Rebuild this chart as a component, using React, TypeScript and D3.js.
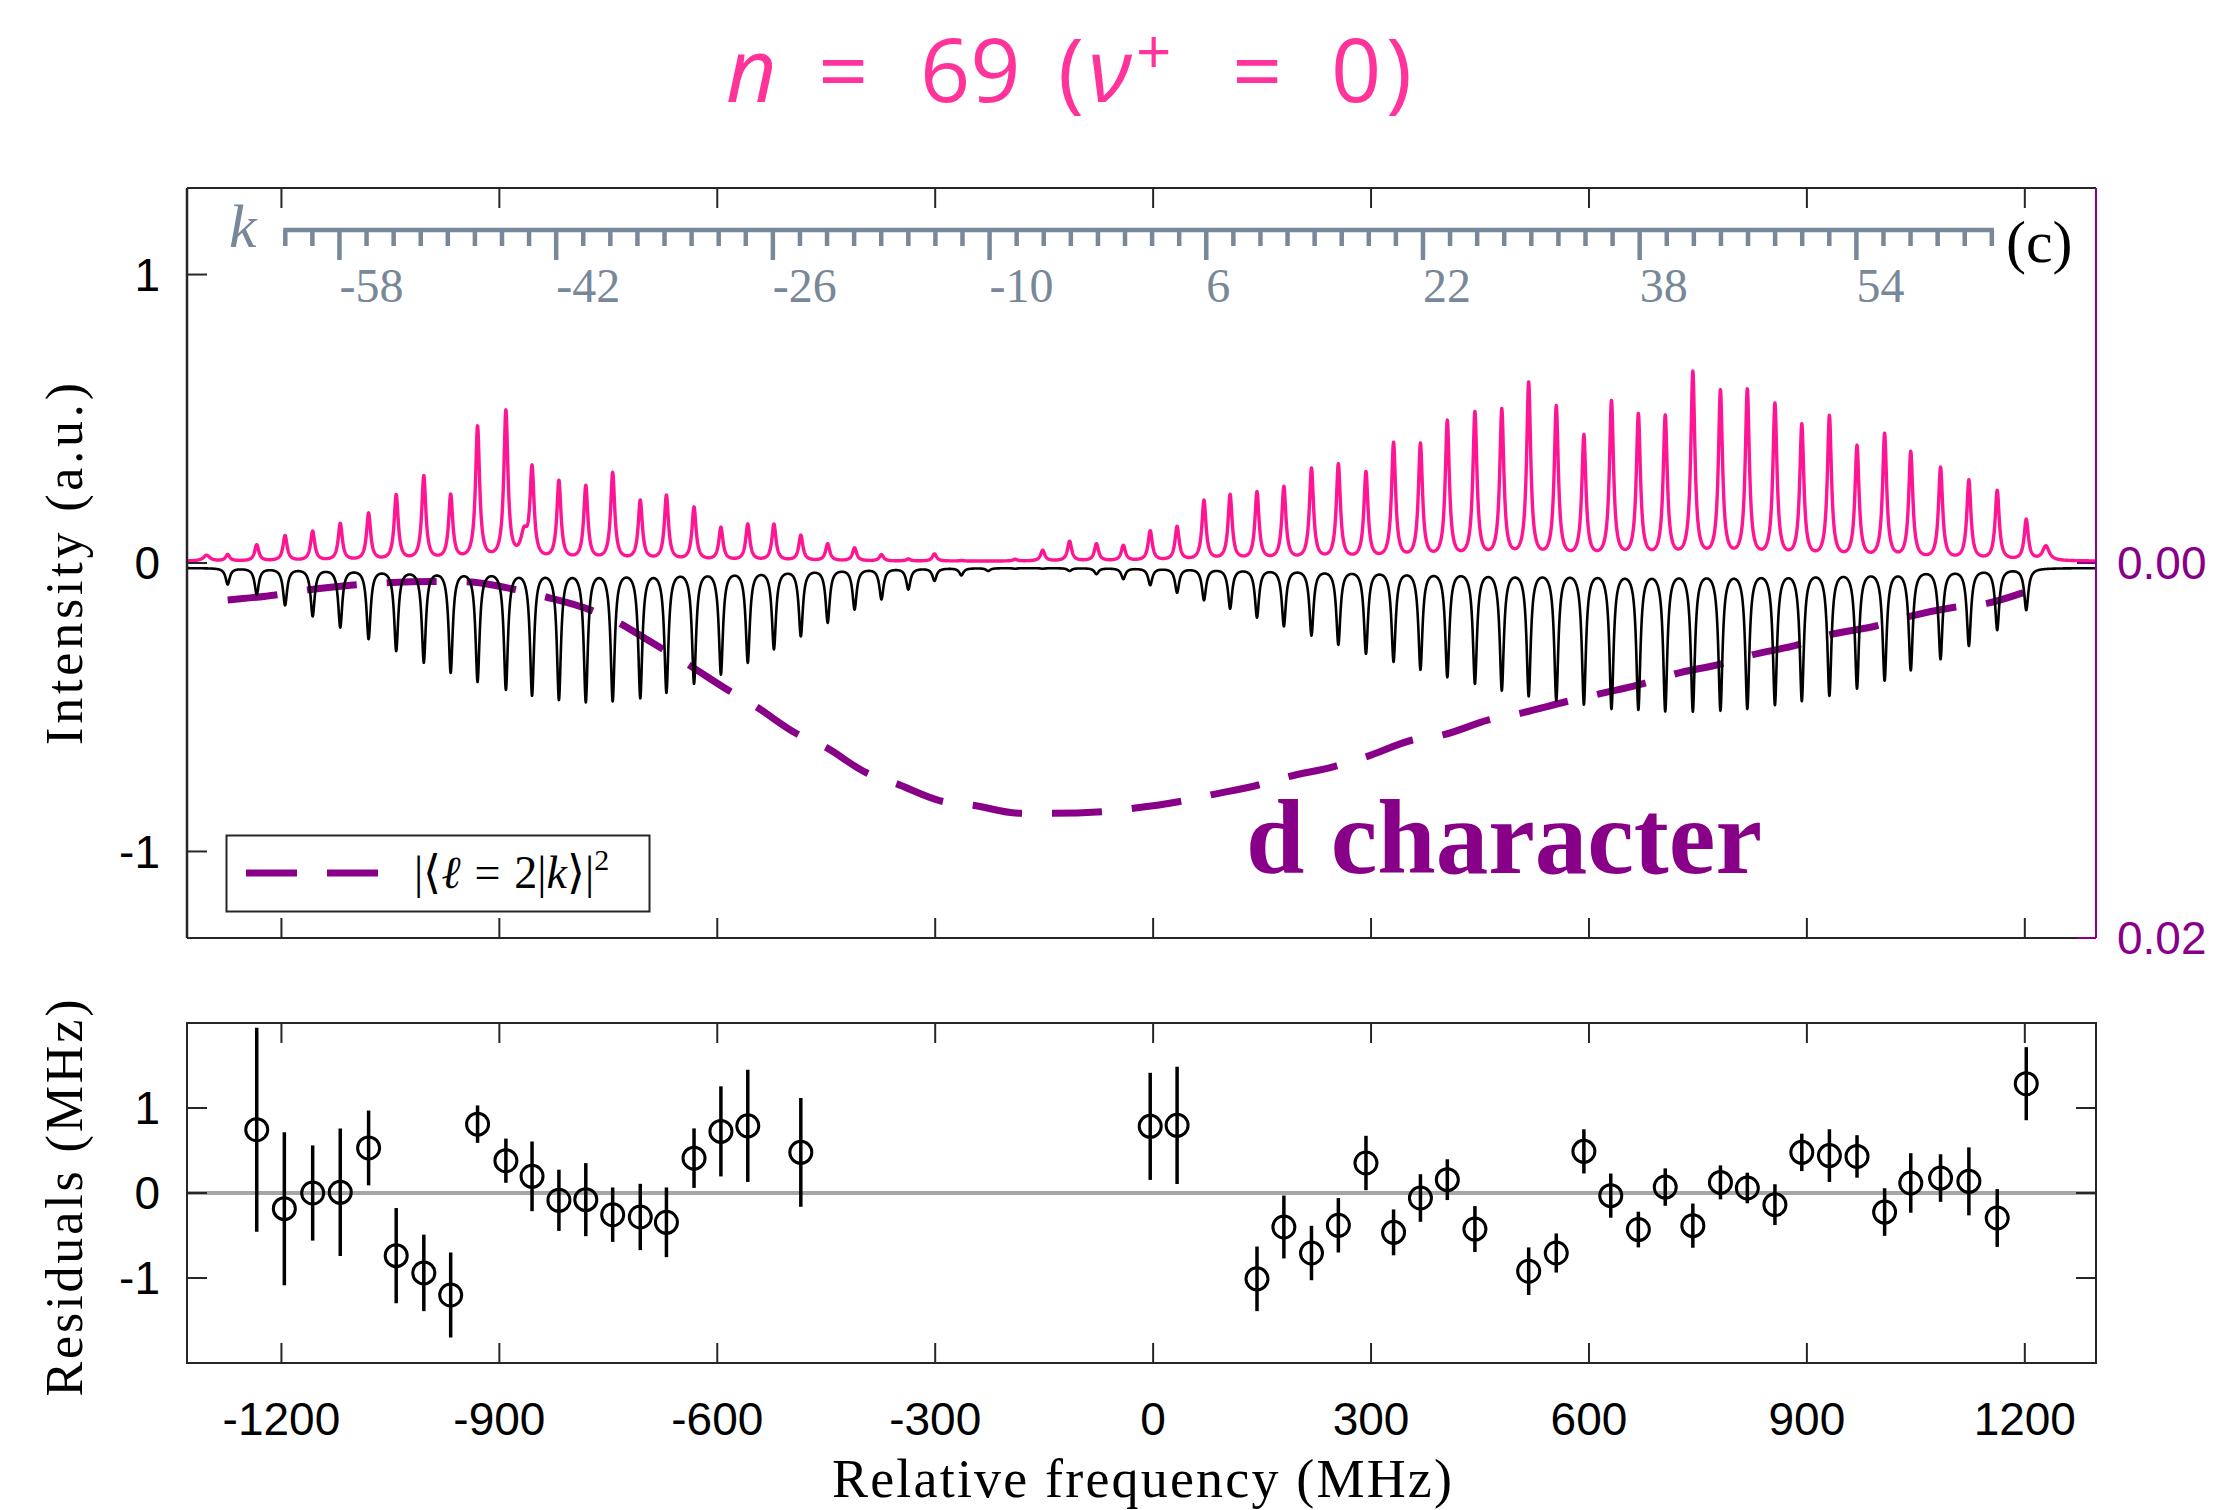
import React, { useMemo } from 'react';
import * as d3 from 'd3';

// ---------- data ----------
// line centres (MHz) of the resolved k-manifold
const peakFreq = [-1274, -1234, -1195, -1157, -1119, -1080, -1042, -1004, -967, -930, -891, -855, -818, -781, -744, -706, -670, -632, -595, -558, -522, -485, -448, -411, -374, -337, -301, -264, -227, -190, -152, -115, -78, -41, -4, 33, 70, 106, 143, 180, 218, 255, 293, 331, 368, 405, 443, 480, 517, 555, 593, 631, 668, 705, 743, 781, 818, 856, 893, 931, 969, 1007, 1043, 1084, 1123, 1162, 1202];
// measured (pink) peak heights
const dataHeight = [0.028, 0.062, 0.093, 0.108, 0.134, 0.169, 0.232, 0.297, 0.23, 0.467, 0.519, 0.315, 0.278, 0.262, 0.308, 0.212, 0.23, 0.19, 0.12, 0.132, 0.132, 0.094, 0.065, 0.051, 0.028, 0.013, 0.031, 0.008, 0.006, 0.012, 0.043, 0.074, 0.065, 0.059, 0.109, 0.123, 0.213, 0.232, 0.241, 0.259, 0.322, 0.336, 0.308, 0.409, 0.405, 0.484, 0.513, 0.522, 0.615, 0.533, 0.432, 0.551, 0.505, 0.499, 0.652, 0.586, 0.59, 0.542, 0.47, 0.501, 0.397, 0.44, 0.378, 0.325, 0.282, 0.247, 0.147];
// extra small features of the measured trace
const extraFreq = [-1303, -866, 1229];
const extraHeight = [0.02, 0.08, 0.05];
// simulated (black, inverted) dip depths
const simDepth = [0.074, 0.109, 0.146, 0.184, 0.223, 0.263, 0.304, 0.344, 0.379, 0.411, 0.438, 0.458, 0.473, 0.481, 0.478, 0.467, 0.448, 0.417, 0.385, 0.344, 0.298, 0.253, 0.206, 0.16, 0.125, 0.091, 0.061, 0.042, 0.027, 0.019, 0.019, 0.027, 0.038, 0.055, 0.076, 0.102, 0.128, 0.157, 0.188, 0.218, 0.25, 0.282, 0.313, 0.341, 0.368, 0.394, 0.417, 0.44, 0.46, 0.475, 0.489, 0.504, 0.507, 0.512, 0.513, 0.51, 0.504, 0.491, 0.477, 0.459, 0.434, 0.406, 0.371, 0.333, 0.287, 0.232, 0.163];

// |<l=2|k>|^2 (right axis)
const dFreq = [-1274, -1208, -1165, -1101, -1056, -990, -947, -880, -837, -775, -735, -698, -639, -583, -549, -490, -452, -394, -356, -288, -250, -182, -138, -70, -27, 35, 79, 145, 186, 249, 294, 357, 399, 462, 505, 568, 613, 676, 718, 781, 824, 887, 930, 995, 1040, 1103, 1148, 1198];
const dValue = [0.00197, 0.00171, 0.00144, 0.00117, 0.00105, 0.00098, 0.001, 0.0014, 0.0018, 0.0025, 0.0032, 0.00405, 0.00544, 0.00683, 0.0076, 0.00912, 0.0098, 0.0112, 0.01173, 0.01273, 0.01291, 0.01335, 0.01335, 0.01326, 0.01308, 0.01273, 0.01237, 0.01184, 0.0114, 0.01086, 0.01033, 0.00944, 0.00917, 0.00837, 0.00802, 0.0074, 0.00699, 0.00642, 0.00592, 0.00539, 0.00491, 0.00437, 0.00384, 0.00336, 0.00286, 0.00236, 0.00215, 0.00158];

// residuals
const resFreq = [-1234, -1196, -1157, -1119, -1080, -1042, -1004, -967, -930, -891, -855, -818, -781, -744, -706, -670, -632, -595, -558, -485, -4, 33, 143, 180, 218, 255, 293, 331, 368, 405, 443, 517, 555, 593, 630, 668, 705, 743, 781, 818, 856, 893, 931, 969, 1007, 1043, 1084, 1123, 1162, 1202];
const resValue = [0.745, -0.184, 0.0, 0.008, 0.53, -0.737, -0.94, -1.2, 0.81, 0.38, 0.196, -0.086, -0.078, -0.255, -0.282, -0.345, 0.41, 0.725, 0.79, 0.478, 0.784, 0.796, -1.01, -0.4, -0.706, -0.38, 0.353, -0.463, -0.059, 0.157, -0.424, -0.92, -0.706, 0.49, -0.031, -0.43, 0.07, -0.384, 0.125, 0.059, -0.137, 0.478, 0.44, 0.43, -0.224, 0.118, 0.176, 0.137, -0.294, 1.286];
const resError = [1.2, 0.9, 0.56, 0.75, 0.44, 0.56, 0.45, 0.5, 0.22, 0.26, 0.41, 0.36, 0.43, 0.32, 0.39, 0.41, 0.35, 0.53, 0.66, 0.64, 0.63, 0.69, 0.38, 0.37, 0.32, 0.32, 0.32, 0.27, 0.28, 0.24, 0.27, 0.28, 0.23, 0.26, 0.26, 0.21, 0.22, 0.26, 0.2, 0.18, 0.24, 0.22, 0.31, 0.25, 0.28, 0.35, 0.28, 0.4, 0.34, 0.43];

const freqTicks = [-1200, -900, -600, -300, 0, 300, 600, 900, 1200];
const intensityTicks = [-1, 0, 1];
const rightTicks = [0, 0.02];
const resTicks = [-1, 0, 1];
const kMinorTicks = d3.range(-62, 65, 2);
const kMajorTicks = [-58, -42, -26, -10, 6, 22, 38, 54];

// model constants
const K_OFFSET = -38.7; // MHz at k = 0
const K_STEP = 18.645; // MHz per unit k
const GAMMA_SIM = 3.4;
const GAMMA_DATA = 3.4;
const SIM_BASE = -0.017;
const DATA_BASE = 0.006;

const PINK = '#ff1493';
const PURPLE = '#880088';
const SLATE = '#778899';
const AXIS = '#262626';

const L = { left: 187, right: 2096, top: 188, bottom: 938, rTop: 1023, rBottom: 1363 };

export default function App() {
  const x = d3.scaleLinear().domain([-1330, 1298]).range([L.left, L.right]);
  const yMain = d3.scaleLinear().domain([-1.3, 1.3]).range([L.bottom, L.top]);
  const yRight = d3.scaleLinear().domain([-0.02, 0.02]).range([L.top, L.bottom]);
  const yRes = d3.scaleLinear().domain([-2, 2]).range([L.rBottom, L.rTop]);
  const kx = (k: number) => x(K_OFFSET + K_STEP * k);

  const { pinkPath, blackPath, dPath } = useMemo(() => {
    const fs: number[] = [];
    for (let f = -1330; f <= 1298; f += 0.25) fs.push(f);
    peakFreq.forEach((f) => fs.push(f));
    fs.sort((a, b) => a - b);
    const lor = (d: number, g: number) => (g * g) / (d * d + g * g);
    const pink = (f: number) => {
      let s = DATA_BASE;
      for (let i = 0; i < peakFreq.length; i++) s += (dataHeight[i] - DATA_BASE) * lor(f - peakFreq[i], GAMMA_DATA);
      for (let i = 0; i < extraFreq.length; i++) s += extraHeight[i] * lor(f - extraFreq[i], GAMMA_DATA * 1.6);
      return s;
    };
    const black = (f: number) => {
      let s = SIM_BASE;
      for (let i = 0; i < peakFreq.length; i++) s -= Math.max(0, simDepth[i] + SIM_BASE) / 1.02 * lor(f - peakFreq[i], GAMMA_SIM);
      return s;
    };
    const pinkPath = d3.line<number>().x((f) => x(f)).y((f) => yMain(pink(f)))(fs) || '';
    const blackPath = d3.line<number>().x((f) => x(f)).y((f) => yMain(black(f)))(fs) || '';
    const dPath =
      d3
        .line<number>()
        .x((i) => x(dFreq[i]))
        .y((i) => yRight(dValue[i]))
        .curve(d3.curveMonotoneX)(d3.range(dFreq.length)) || '';
    return { pinkPath, blackPath, dPath };
  }, []);

  const tickFont = { fontFamily: 'Liberation Sans, Arial, sans-serif', fontSize: 46 };
  const serif = 'Liberation Serif, Times New Roman, serif';

  return (
    <div style={{ position: 'absolute', left: 0, top: 0 }}>
      <svg width={2224} height={1510} viewBox="0 0 2224 1510" xmlns="http://www.w3.org/2000/svg">
        <rect x={0} y={0} width={2224} height={1510} fill="#fff" />
        <defs>
          <clipPath id="mainClip">
            <rect x={L.left} y={L.top} width={L.right - L.left} height={L.bottom - L.top} />
          </clipPath>
          <clipPath id="resClip">
            <rect x={L.left} y={L.rTop} width={L.right - L.left} height={L.rBottom - L.rTop} />
          </clipPath>
        </defs>

        {/* title */}
        <text y={102} fontSize={88} fill="#ff3399" fontFamily="Open Sans, Noto Sans, sans-serif">
          <tspan x={726} fontStyle="italic">n</tspan>
          <tspan x={818}>=</tspan>
          <tspan x={920}>69</tspan>
          <tspan x={1058}>(</tspan>
          <tspan x={1088} fontStyle="italic">ν</tspan>
          <tspan x={1136} dy={-28} fontSize={62}>+</tspan>
          <tspan x={1232} dy={28}>=</tspan>
          <tspan x={1331}>0</tspan>
          <tspan x={1386}>)</tspan>
        </text>

        {/* main plot curves */}
        <g clipPath="url(#mainClip)">
          <path d={dPath} fill="none" stroke={PURPLE} strokeWidth={7} strokeDasharray="50,30" />
          <path d={blackPath} fill="none" stroke="#000" strokeWidth={2.6} strokeLinejoin="round" />
          <path d={pinkPath} fill="none" stroke={PINK} strokeWidth={3.4} strokeLinejoin="round" />
        </g>

        {/* main axes */}
        <g>
          <line x1={L.left} x2={L.right} y1={L.top} y2={L.top} stroke={AXIS} strokeWidth={2} />
          <line x1={L.left} x2={L.right} y1={L.bottom} y2={L.bottom} stroke={AXIS} strokeWidth={2} />
          <line x1={L.left} x2={L.left} y1={L.top} y2={L.bottom} stroke={AXIS} strokeWidth={2.5} />
          <line x1={L.right} x2={L.right} y1={L.top} y2={L.bottom} stroke={PURPLE} strokeWidth={2} />
          {freqTicks.map((t) => (
            <g key={'mt' + t}>
              <line x1={x(t)} x2={x(t)} y1={L.top} y2={L.top + 20} stroke={AXIS} strokeWidth={2} />
              <line x1={x(t)} x2={x(t)} y1={L.bottom} y2={L.bottom - 20} stroke={AXIS} strokeWidth={2} />
            </g>
          ))}
          {intensityTicks.map((t) => (
            <g key={'it' + t}>
              <line x1={L.left} x2={L.left + 20} y1={yMain(t)} y2={yMain(t)} stroke={AXIS} strokeWidth={2} />
              <text x={160} y={yMain(t)} dy="0.35em" textAnchor="end" {...tickFont} fill="#000">
                {t}
              </text>
            </g>
          ))}
          {rightTicks.map((t) => (
            <g key={'rt' + t}>
              <line x1={L.right} x2={L.right - 19} y1={yRight(t)} y2={yRight(t)} stroke={PURPLE} strokeWidth={2} />
              <text x={2117} y={yRight(t)} dy="0.35em" textAnchor="start" {...tickFont} fill={PURPLE}>
                {d3.format('.2f')(t)}
              </text>
            </g>
          ))}
          <text
            transform={`translate(82,564) rotate(-90)`}
            textAnchor="middle"
            fontFamily={serif}
            fontSize={52}
            textLength={362}
            lengthAdjust="spacing"
          >
            Intensity (a.u.)
          </text>
        </g>

        {/* k axis */}
        <g stroke={SLATE} strokeWidth={4.5}>
          <line x1={kx(-62) - 2} x2={kx(64) + 2} y1={230} y2={230} />
          {kMinorTicks.map((k) => (
            <line key={'km' + k} x1={kx(k)} x2={kx(k)} y1={230} y2={kMajorTicks.includes(k) ? 260 : 246} />
          ))}
        </g>
        {kMajorTicks.map((k) => (
          <text key={'kl' + k} x={kx(k)} y={302} fontFamily={serif} fontSize={48} fill={SLATE}>
            {k}
          </text>
        ))}
        <text x={229} y={247} fontFamily={serif} fontStyle="italic" fontSize={62} fill={SLATE}>
          k
        </text>
        <text x={2006} y={262} fontFamily={serif} fontSize={60} fill="#000">
          (c)
        </text>

        {/* d character */}
        <text x={1246} y={873} fontFamily={serif} fontWeight="bold" fontSize={105} fill={PURPLE}>
          d character
        </text>

        {/* legend */}
        <g>
          <rect x={226.5} y={835.5} width={423} height={76} fill="#fff" stroke={AXIS} strokeWidth={2} />
          <line x1={246} x2={378} y1={873} y2={873} stroke={PURPLE} strokeWidth={7} strokeDasharray="51,30" />
          <text x={414} y={888} fontFamily={serif} fontSize={46} fill="#000">
            <tspan>|⟨</tspan>
            <tspan fontStyle="italic">ℓ</tspan>
            <tspan dx={14}>=</tspan>
            <tspan dx={14}>2|</tspan>
            <tspan fontStyle="italic">k</tspan>
            <tspan>⟩|</tspan>
            <tspan dy={-18} fontSize={30}>2</tspan>
          </text>
        </g>

        {/* residuals */}
        <g>
          <line x1={L.left} x2={L.right} y1={yRes(0)} y2={yRes(0)} stroke="#a6a6a6" strokeWidth={4} />
          <g clipPath="url(#resClip)">
            {resFreq.map((f, i) => (
              <g key={'r' + i}>
                <line
                  x1={x(f)}
                  x2={x(f)}
                  y1={yRes(resValue[i] - resError[i])}
                  y2={yRes(resValue[i] + resError[i])}
                  stroke="#000"
                  strokeWidth={3.5}
                />
                <circle cx={x(f)} cy={yRes(resValue[i])} r={11} fill="none" stroke="#000" strokeWidth={3} />
              </g>
            ))}
          </g>
          <rect x={L.left} y={L.rTop} width={L.right - L.left} height={L.rBottom - L.rTop} fill="none" stroke={AXIS} strokeWidth={2} />
          {freqTicks.map((t) => (
            <g key={'rx' + t}>
              <line x1={x(t)} x2={x(t)} y1={L.rTop} y2={L.rTop + 20} stroke={AXIS} strokeWidth={2} />
              <line x1={x(t)} x2={x(t)} y1={L.rBottom} y2={L.rBottom - 20} stroke={AXIS} strokeWidth={2} />
              <text x={x(t)} y={1435} textAnchor="middle" {...tickFont} fill="#000">
                {t}
              </text>
            </g>
          ))}
          {resTicks.map((t) => (
            <g key={'ry' + t}>
              <line x1={L.left} x2={L.left + 20} y1={yRes(t)} y2={yRes(t)} stroke={AXIS} strokeWidth={2} />
              <line x1={L.right} x2={L.right - 20} y1={yRes(t)} y2={yRes(t)} stroke={AXIS} strokeWidth={2} />
              <text x={160} y={yRes(t)} dy="0.35em" textAnchor="end" {...tickFont} fill="#000">
                {t}
              </text>
            </g>
          ))}
          <text
            transform={`translate(82,1198) rotate(-90)`}
            textAnchor="middle"
            fontFamily={serif}
            fontSize={52}
            textLength={397}
            lengthAdjust="spacing"
          >
            Residuals (MHz)
          </text>
          <text x={1142} y={1497} textAnchor="middle" fontFamily={serif} fontSize={54} textLength={620} lengthAdjust="spacing">
            Relative frequency (MHz)
          </text>
        </g>
      </svg>
    </div>
  );
}
